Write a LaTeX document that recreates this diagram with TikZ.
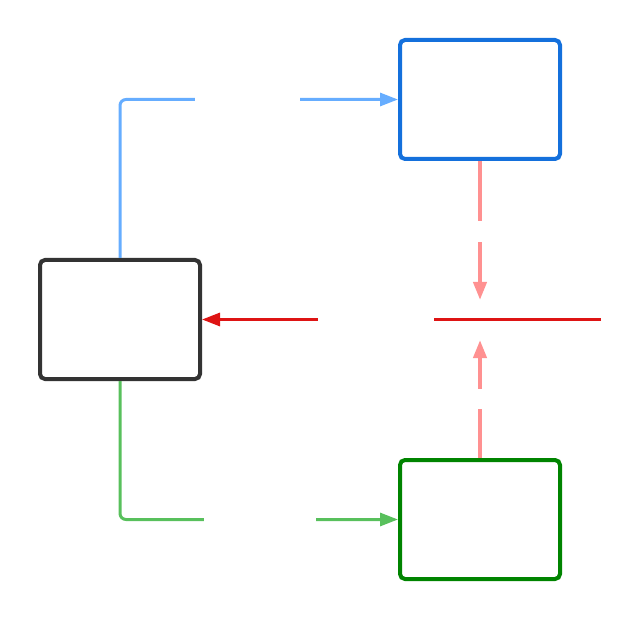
\documentclass[tikz,border=0pt]{standalone}
\usetikzlibrary{arrows.meta}
\definecolor{boxblue}{RGB}{20,112,220}
\definecolor{boxgreen}{RGB}{0,132,0}
\definecolor{boxdark}{RGB}{51,51,51}
\definecolor{lineblue}{RGB}{102,173,255}
\definecolor{linegreen}{RGB}{88,192,92}
\definecolor{linered}{RGB}{222,20,20}
\definecolor{linepink}{RGB}{255,145,145}
\begin{document}
\begin{tikzpicture}[x=1pt,y=-1pt,
  box/.style={draw,line width=4pt,rounded corners=5pt,minimum width=160pt,minimum height=119pt,inner sep=0pt,fill=white},
  conn/.style={line width=3pt,rounded corners=6pt},
  tip/.style={-{Triangle[length=18pt,width=13pt]}},
  gapnode/.style={fill=white,inner sep=0pt}]
\useasboundingbox (0,0) rectangle (640,620);
\node[box,draw=boxblue] (blue) at (480,99.5) {};
\node[box,draw=boxdark] (dark) at (120,319.5) {};
\node[box,draw=boxgreen] (green) at (480,519.5) {};
\coordinate (redstart) at (601,319.5);
\coordinate (pinktopend) at (480,300);
\coordinate (pinkbotend) at (480,340);
% connectors
\draw[conn,tip,draw=lineblue] (dark.north) |- (blue.west);
\draw[conn,tip,draw=linegreen] (dark.south) |- (green.west);
\draw[conn,tip,draw=linered] (redstart) -- (dark.east);
\draw[conn,tip,draw=linepink,line width=4pt] (blue.south) -- (pinktopend);
\draw[conn,tip,draw=linepink,line width=4pt] (green.north) -- (pinkbotend);
% label gaps
\node[gapnode,minimum width=105pt,minimum height=8pt] (lblblue) at (247.5,99.5) {};
\node[gapnode,minimum width=112pt,minimum height=8pt] (lblgreen) at (260,519.5) {};
\node[gapnode,minimum width=116pt,minimum height=8pt] (lblred) at (376,319.5) {};
\node[gapnode,minimum width=8pt,minimum height=21pt] (lblpinktop) at (480,231.5) {};
\node[gapnode,minimum width=8pt,minimum height=20pt] (lblpinkbot) at (480,399) {};
\end{tikzpicture}
\end{document}
